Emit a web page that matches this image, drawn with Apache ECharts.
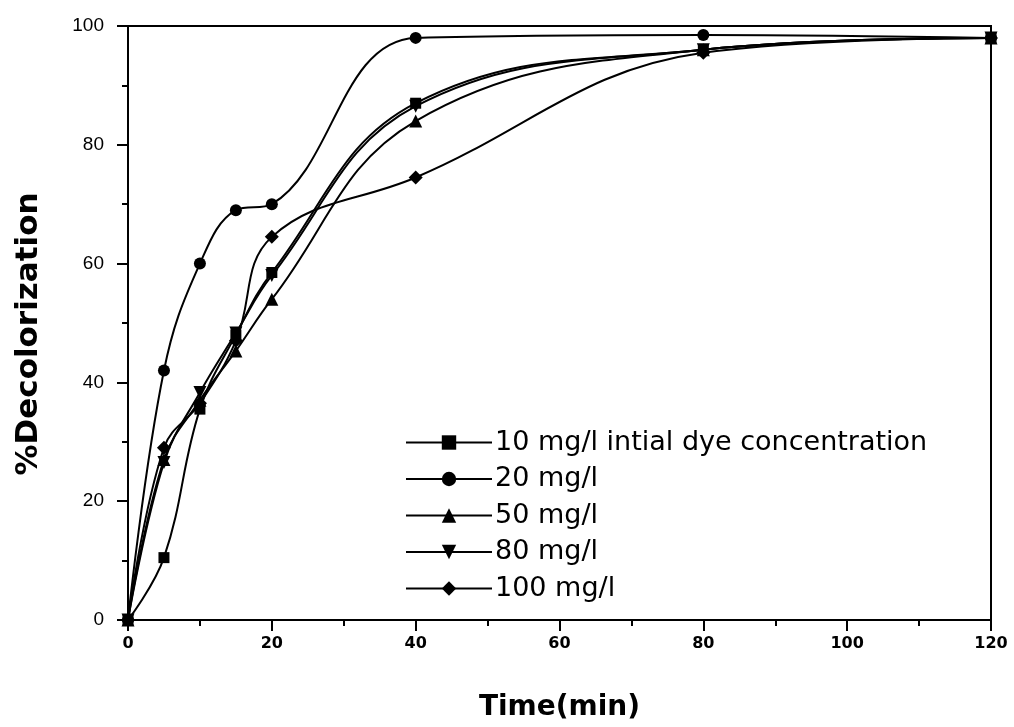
<!DOCTYPE html>
<html>
<head>
<meta charset="utf-8">
<script src="https://cdn.jsdelivr.net/npm/echarts@6/dist/echarts.min.js"></script>
<style>
  html, body { margin: 0; padding: 0; background: #fff; }
  #chart { width: 1014px; height: 727px; }
</style>
</head>
<body>
<div id="chart"></div>
<script>
// time points (min)
const times = [0, 5, 10, 15, 20, 40, 80, 120];
// % decolorization for each initial dye concentration
const conc10 = [0, 10.5, 35.5, 48, 58.5, 87, 96, 98];
const conc20 = [0, 42, 60, 69, 70, 98, 98.5, 98];
const conc50 = [0, 27, 37, 45.3, 54, 84, 96, 98];
const conc80 = [0, 26.5, 38.3, 48.3, 58, 86.5, 96, 98];
const conc100 = [0, 29, 36.5, 47, 64.5, 74.5, 95.5, 98];

const seriesNames = ['10 mg/l intial dye concentration', '20 mg/l', '50 mg/l', '80 mg/l', '100 mg/l'];
const seriesData = [conc10, conc20, conc50, conc80, conc100];
const symbols = ['rect', 'circle', 'triangle', 'path://M0,0 L10,0 L5,10 Z', 'diamond'];
const symbolSizes = [11, 12, 13, 13, 14];

const chart = echarts.init(document.getElementById('chart'));

const series = seriesNames.map((name, i) => ({
  name: name,
  type: 'line',
  smooth: 0.4,
  data: times.map((t, j) => [t, seriesData[i][j]]),
  symbol: symbols[i],
  symbolSize: symbolSizes[i],
  showAllSymbol: true,
  lineStyle: { color: '#000', width: 2 },
  itemStyle: { color: '#000' }
}));

chart.setOption({
  animation: false,
  backgroundColor: '#fff',
  grid: {
    left: 128,
    right: 23,
    top: 26,
    bottom: 100,
    show: true,
    borderColor: '#000',
    borderWidth: 2
  },
  legend: {
    left: 400,
    top: 424,
    orient: 'vertical',
    itemGap: 9.5,
    itemWidth: 86,
    itemHeight: 18,
    lineStyle: { color: '#000', width: 2 },
    textStyle: { fontFamily: 'DejaVu Sans', fontSize: 27, lineHeight: 27, color: '#000', padding: [0, 0, 0, -2] },
    data: seriesNames
  },
  xAxis: {
    type: 'value',
    min: 0,
    max: 120,
    interval: 20,
    name: 'Time(min)',
    nameLocation: 'middle',
    nameGap: 74,
    nameTextStyle: { fontFamily: 'DejaVu Sans', fontWeight: 'bold', fontSize: 28, color: '#000' },
    axisLine: { lineStyle: { color: '#000', width: 2 } },
    axisTick: { length: 11, lineStyle: { color: '#000', width: 2 } },
    minorTick: { show: true, splitNumber: 2, length: 6, lineStyle: { color: '#000', width: 2 } },
    axisLabel: { fontFamily: 'DejaVu Sans', fontWeight: 'bold', fontSize: 16, color: '#000', margin: 16 },
    splitLine: { show: false }
  },
  yAxis: {
    type: 'value',
    min: 0,
    max: 100,
    interval: 20,
    name: '%Decolorization',
    nameLocation: 'middle',
    nameGap: 84,
    nameTextStyle: { fontFamily: 'DejaVu Sans', fontWeight: 'bold', fontSize: 31, color: '#000', padding: [0, 22, 0, 0] },
    axisLine: { lineStyle: { color: '#000', width: 2 } },
    axisTick: { length: 11, lineStyle: { color: '#000', width: 2 } },
    minorTick: { show: true, splitNumber: 2, length: 6, lineStyle: { color: '#000', width: 2 } },
    axisLabel: { fontFamily: 'Liberation Sans', fontSize: 19, color: '#000', margin: 24 },
    splitLine: { show: false }
  },
  series: series
});
</script>
</body>
</html>
